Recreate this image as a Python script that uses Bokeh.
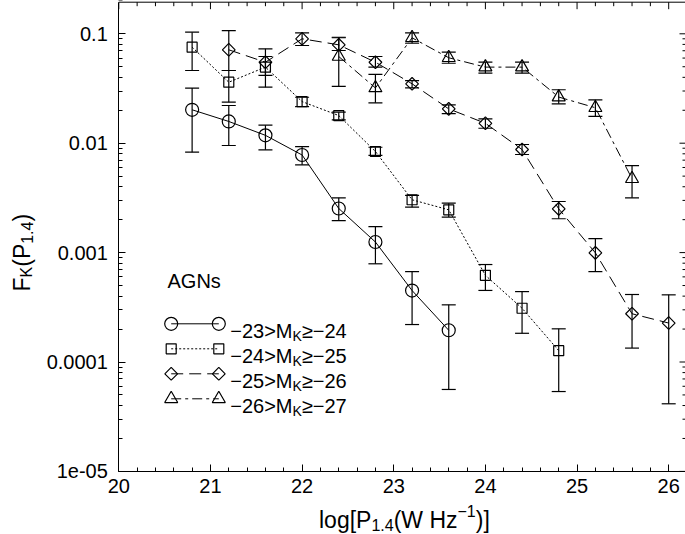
import math
from bokeh.plotting import figure
from bokeh.models import (ColumnDataSource, Whisker, TeeHead, Label,
                          FixedTicker, CustomJSTickFormatter, Range1d)
from bokeh.embed import file_html
from bokeh.resources import INLINE

# ---------------- data ----------------
# -23 > M_K >= -24  (circles, solid)
x_c = [20.8, 21.2, 21.6, 22.0, 22.4, 22.8, 23.2, 23.6]
y_c = [0.0202, 0.0158, 0.0118, 0.0078, 0.00253, 0.00125, 0.00045, 0.000195]
hi_c = [0.0319, 0.0221, 0.0146, 0.0093, 0.00317, 0.00173, 0.00067, 0.000333]
lo_c = [0.00828, 0.00953, 0.0087, 0.00635, 0.00196, 0.00079, 0.00022, 0.0000561]

# -24 > M_K >= -25  (squares, dotted)
x_s = [20.8, 21.2, 21.6, 22.0, 22.4, 22.8, 23.2, 23.6, 24.0, 24.4, 24.8]
y_s = [0.0755, 0.0361, 0.0496, 0.0240, 0.0179, 0.0084, 0.00304, 0.00246, 0.00062, 0.00031, 0.000127]
hi_s = [0.1035, 0.0462, 0.062, 0.0263, 0.0192, 0.00918, 0.00333, 0.00283, 0.000778, 0.00044, 0.000201]
lo_s = [0.0462, 0.0237, 0.0325, 0.0216, 0.01637, 0.00773, 0.0026, 0.00211, 0.000451, 0.000183, 0.0000537]

# -25 > M_K >= -26  (diamonds, dashed)
x_d = [21.2, 21.6, 22.0, 22.4, 22.8, 23.2, 23.6, 24.0, 24.4, 24.8, 25.2, 25.6, 26.0]
y_d = [0.0714, 0.055, 0.090, 0.0793, 0.055, 0.0349, 0.0206, 0.0152, 0.00875, 0.00251, 0.000995, 0.000276, 0.000227]
hi_d = [0.107, 0.0729, 0.102, 0.092, 0.062, 0.0374, 0.0224, 0.0167, 0.00973, 0.00293, 0.00134, 0.000414, 0.000411]
lo_d = [0.0462, 0.0416, 0.0782, 0.0704, 0.0496, 0.032, 0.0186, 0.0137, 0.00788, 0.00204, 0.00067, 0.000134, 0.0000415]

# -26 > M_K >= -27  (triangles, dash-dot)
x_t = [22.4, 22.8, 23.2, 23.6, 24.0, 24.4, 24.8, 25.2, 25.6]
y_t = [0.062, 0.032, 0.0919, 0.0604, 0.0496, 0.0496, 0.0264, 0.0211, 0.00473]
hi_t = [0.093, 0.0425, 0.102, 0.0679, 0.055, 0.055, 0.0308, 0.0249, 0.00625]
lo_t = [0.033, 0.0234, 0.082, 0.0538, 0.0437, 0.0437, 0.0229, 0.0176, 0.00317]

legend_a = ["\u221223>M", "\u221224>M", "\u221225>M", "\u221226>M"]
legend_b = ["\u2265\u221224", "\u2265\u221225", "\u2265\u221226", "\u2265\u221227"]
legend_sub = "K"
group_label = "AGNs"

x_ticks = [20, 21, 22, 23, 24, 25, 26]
x_tick_labels = ["20", "21", "22", "23", "24", "25", "26"]
y_ticks = [1e-5, 1e-4, 1e-3, 1e-2, 1e-1]
y_tick_labels = ["1e-05", "0.0001", "0.001", "0.01", "0.1"]

# ---------------- layout (pixels of the 685x534 canvas) ----------------
FONT = "Liberation Sans"
W, H = 685, 534
PX_X20 = 118.3        # pixel column of x = 20
PX_PER_X = 91.65      # pixels per unit of log P
PX_Y01 = 33.3         # pixel row of y = 0.1
PX_PER_DEC = 109.4    # pixels per decade
BOX_L, BOX_R, BOX_T, BOX_B = 118.3, 686.0, 1.7, 471.1


def sx(px):
    return 20.0 + (px - PX_X20) / PX_PER_X


def sy(py):
    return 10 ** (-1.0 - (py - PX_Y01) / PX_PER_DEC)


X_LO, X_HI = 20.0, sx(BOX_R)
Y_LO, Y_HI = 1e-5, sy(BOX_T)

# the frame covers the whole canvas; the axes are pinned at the box edges
p = figure(width=W, height=H, x_range=Range1d(sx(0), sx(W)), y_range=Range1d(sy(H), sy(0)),
           y_axis_type="log", output_backend="svg", toolbar_location=None,
           min_border_left=0, min_border_right=0, min_border_top=0, min_border_bottom=0)
p.xgrid.grid_line_color = None
p.ygrid.grid_line_color = None
p.outline_line_color = None
p.background_fill_color = "white"
p.border_fill_color = "white"

fmt_log = """
for (let i = 0; i < major.length; i++) {
  if (Math.abs(Math.log10(tick) - Math.log10(major[i])) < 1e-6) return names[i];
}
return "";
"""
fmt_lin = """
for (let i = 0; i < major.length; i++) {
  if (Math.abs(tick - major[i]) < 1e-6) return names[i];
}
return "";
"""
x_minor = [t + 0.2 * k for t in x_ticks for k in range(1, 5)]
y_minor = [d * m for d in y_ticks for m in range(2, 10)]

MAJ, MIN = 7, 4


def style_axis(ax):
    ax.major_tick_in = MAJ
    ax.major_tick_out = 0
    ax.minor_tick_in = MIN
    ax.minor_tick_out = 0
    ax.axis_line_color = "black"
    ax.major_tick_line_color = "black"
    ax.minor_tick_line_color = "black"
    ax.major_label_text_font = FONT
    ax.major_label_text_font_size = "20px"
    ax.major_label_text_color = "black"


xa = p.xaxis[0]
xa.ticker = FixedTicker(ticks=x_ticks, minor_ticks=x_minor)
xa.formatter = CustomJSTickFormatter(args=dict(major=x_ticks, names=x_tick_labels), code=fmt_lin)
style_axis(xa)
xa.major_label_standoff = 8
xa.fixed_location = Y_LO
xa.bounds = (X_LO, X_HI)

ya = p.yaxis[0]
ya.ticker = FixedTicker(ticks=y_ticks, minor_ticks=y_minor)
ya.formatter = CustomJSTickFormatter(args=dict(major=y_ticks, names=y_tick_labels), code=fmt_log)
style_axis(ya)
ya.major_label_standoff = 11
ya.fixed_location = X_LO
ya.bounds = (Y_LO, Y_HI)

# top edge of the box with inward ticks, and inward ticks on the right edge
p.segment(x0=[X_LO], y0=[Y_HI], x1=[X_HI], y1=[Y_HI], line_color="black", line_width=1)
p.segment(x0=[X_HI], y0=[Y_LO], x1=[X_HI], y1=[Y_HI], line_color="black", line_width=1)
tx = [t for t in x_ticks + x_minor if t < X_HI]
tl = [MAJ if t in x_ticks else MIN for t in tx]
p.segment(x0=tx, y0=[Y_HI] * len(tx), x1=tx, y1=[sy(BOX_T + l) for l in tl],
          line_color="black", line_width=1)
ty = [v for v in y_ticks + y_minor if v < Y_HI]
tyl = [MAJ if v in y_ticks else MIN for v in ty]
p.segment(x0=[X_HI] * len(ty), y0=ty, x1=[sx(BOX_R - l) for l in tyl], y1=ty,
          line_color="black", line_width=1)

LW = 1.2
series = [
    (x_c, y_c, hi_c, lo_c, dict(marker="circle", size=13), "solid"),
    (x_s, y_s, hi_s, lo_s, dict(marker="square", size=10), "2 2"),
    (x_d, y_d, hi_d, lo_d, dict(marker="square", size=9, angle=math.pi / 4), "12 6"),
    (x_t, y_t, hi_t, lo_t, dict(marker="triangle", size=13), "10 4 3 4"),
]

for xs, ys, his, los, mk, dash in series:
    src = ColumnDataSource(dict(x=xs, y=ys, hi=his, lo=los))
    p.line("x", "y", source=src, line_color="black", line_width=1.0, line_dash=dash)
    p.scatter("x", "y", source=src, fill_color=None, line_color="black", line_width=LW, **mk)
    p.add_layout(Whisker(source=src, base="x", upper="hi", lower="lo", dimension="height",
                         line_color="black", line_width=LW,
                         upper_head=TeeHead(size=14, line_color="black", line_width=LW),
                         lower_head=TeeHead(size=14, line_color="black", line_width=LW)))

ADV = {'\u2212': 0.584, '0': 0.556, '1': 0.556, '2': 0.556, '3': 0.556, '4': 0.556,
       '5': 0.556, '6': 0.556, '7': 0.556, '>': 0.584, 'M': 0.833, 'K': 0.667,
       '\u2265': 0.549, 'l': 0.222, 'o': 0.556, 'g': 0.556, '[': 0.278, 'P': 0.667,
       '(': 0.333, ')': 0.333, 'W': 0.944, ' ': 0.278, 'H': 0.722, 'z': 0.5,
       ']': 0.278, '.': 0.278, 'F': 0.611, 'A': 0.667, 'G': 0.778, 'N': 0.722, 's': 0.5}


def tw(s, size):
    return sum(ADV.get(c, 0.556) for c in s) * size


def put_text(pieces, px, py, rotated=False):
    """pieces: (text, size, baseline offset); px,py: pixel position of start / baseline."""
    pos = px if not rotated else py
    for txt, size, off in pieces:
        if rotated:
            lx, ly = sx(px + off), sy(pos)
        else:
            lx, ly = sx(pos), sy(py + off)
        p.add_layout(Label(x=lx, y=ly, text=txt, text_font=FONT, text_font_size=f"{size}px",
                           text_color="black", text_align="left", text_baseline="alphabetic",
                           angle=(math.pi / 2 if rotated else 0)))
        if rotated:
            pos -= tw(txt, size)
        else:
            pos += tw(txt, size)


# axis titles
put_text([("log[P", 23, 0), ("1.4", 16, 5), ("(W Hz", 23, 0), ("\u22121", 16, -9), (")]", 23, 0)],
         318.5, 519)
put_text([("F", 23, 0), ("K", 16, 5), ("(P", 23, 0), ("1.4", 16, 5), (")", 23, 0)],
         21, 291, rotated=True)

# in-plot text and legend
put_text([(group_label, 20, 0)], 167, 280)
row_y = [323.3, 348.3, 373.3, 398.3]
sample_x = (170.7, 218.3)
for i, (xs, ys, his, los, mk, dash) in enumerate(series):
    cy = row_y[i]
    lx = [sx(sample_x[0]), sx(sample_x[1])]
    ly = [sy(cy), sy(cy)]
    p.line(lx, ly, line_color="black", line_width=1.0, line_dash=dash)
    p.scatter(lx, ly, fill_color=None, line_color="black", line_width=LW, **mk)
    put_text([(legend_a[i], 20, 0), (legend_sub, 14, 5), (legend_b[i], 20, 0)], 229.7, cy + 7.2)

open("out.html", "w").write(file_html(p, INLINE))
